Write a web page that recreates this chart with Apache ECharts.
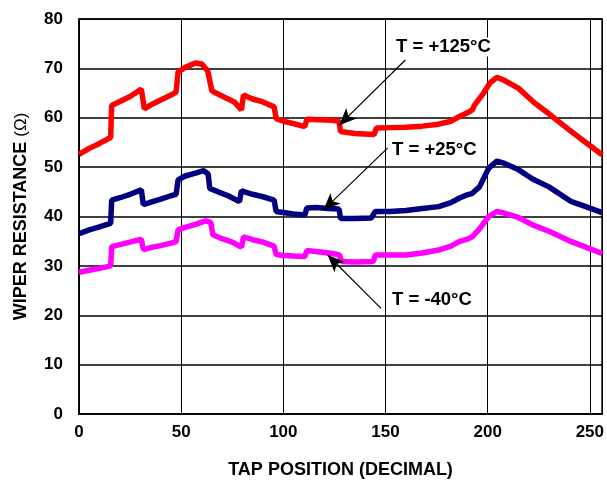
<!DOCTYPE html>
<html>
<head>
<meta charset="utf-8">
<script src="https://cdn.jsdelivr.net/npm/echarts@6/dist/echarts.min.js"></script>
<style>
html,body{margin:0;padding:0;background:#fff;}
#chart{width:607px;height:484px;}
</style>
</head>
<body>
<div id="chart"></div>
<script>
// Tap positions and wiper resistance values
var redX = [0, 5, 10, 15.5, 16, 20, 25, 30.5, 32, 36, 40, 45, 47.5, 48.5, 52, 57, 60, 63, 65, 67, 72, 76, 79.5, 80.5, 85, 90, 95.5, 96.5, 100, 105, 110.5, 111.5, 118, 124, 127.3, 128, 135, 144.5, 145.5, 152, 160, 168, 176, 182, 186, 190, 192.5, 193.5, 198, 201, 204.5, 208, 215, 223, 230, 241, 248, 256];
var redY = [52.6, 53.8, 54.8, 56.0, 62.5, 63.3, 64.3, 65.8, 61.8, 62.8, 63.6, 64.6, 65.2, 69.3, 70.2, 71.1, 70.9, 69.5, 65.5, 65.0, 64.0, 63.2, 61.6, 64.6, 63.8, 63.2, 62.2, 59.8, 59.3, 58.8, 58.2, 59.7, 59.6, 59.5, 59.3, 57.2, 56.8, 56.6, 57.9, 58.0, 58.1, 58.3, 58.7, 59.3, 60.2, 61.0, 61.6, 62.5, 65.0, 67.0, 68.2, 67.6, 66.0, 63.0, 60.8, 57.2, 55.0, 52.5];

var blueX = [0, 5, 10, 15.5, 16, 20, 25, 30.5, 31.5, 36, 40, 45, 47.5, 48.5, 52, 57, 61, 63.2, 64, 68, 73, 78.5, 79.5, 85, 90, 95.5, 96.5, 100, 105, 110.5, 111.5, 116, 122, 127.3, 128, 135, 143, 145, 152, 160, 168, 176, 182, 186, 190, 192.5, 196, 200.5, 204.5, 208, 215, 222, 230, 241, 248, 256];
var blueY = [36.5, 37.3, 37.9, 38.6, 43.3, 43.8, 44.5, 45.4, 42.4, 43.0, 43.5, 44.2, 44.5, 47.4, 48.2, 48.8, 49.3, 48.6, 45.7, 45.0, 44.2, 43.0, 45.2, 44.5, 44.0, 43.3, 41.0, 40.8, 40.5, 40.3, 41.7, 41.8, 41.6, 41.5, 39.6, 39.6, 39.7, 41.0, 41.0, 41.2, 41.6, 42.0, 42.8, 43.7, 44.4, 44.7, 46.0, 49.8, 51.2, 50.8, 49.5, 47.6, 46.0, 43.0, 42.0, 40.8];

var magX = [0, 5, 10, 15.5, 16, 20, 25, 30.5, 31.5, 36, 40, 45, 47.5, 48.5, 52, 57, 62, 64.5, 65.5, 70, 75, 79.5, 80.5, 85, 90, 95.5, 96.5, 100, 105, 110.5, 111.5, 118, 124, 127.5, 128.5, 135, 144, 145, 152, 160, 168, 176, 182, 186, 190, 192.5, 196, 200.5, 204.5, 208, 215, 222, 230, 241, 248, 256];
var magY = [28.7, 29.1, 29.5, 30.0, 33.9, 34.3, 34.8, 35.4, 33.3, 33.8, 34.1, 34.6, 34.9, 37.3, 37.8, 38.4, 39.1, 38.8, 36.3, 35.5, 34.8, 33.8, 35.9, 35.3, 34.8, 34.0, 32.3, 32.1, 32.0, 31.9, 33.1, 32.8, 32.5, 32.2, 30.9, 30.8, 30.9, 32.2, 32.2, 32.2, 32.6, 33.2, 34.0, 34.9, 35.4, 35.9, 37.5, 40.0, 41.0, 40.7, 39.8, 38.3, 37.0, 34.9, 33.8, 32.5];

var seriesNames = ['T = +125°C', 'T = +25°C', 'T = -40°C'];
// arrow [start, end] in data coordinates
var arrows = [
  [[159.7, 71.7], [127.4, 58.5]],
  [[151.1, 53.9], [119.6, 41.3]],
  [[147.8, 21.4], [121.7, 32.2]]
];

function pairs(xs, ys) { return xs.map(function (x, i) { return [x, ys[i]]; }); }

var chart = echarts.init(document.getElementById('chart'), null, {renderer: 'canvas'});
var FONT = '"Liberation Sans", Arial, sans-serif';

function arrowLine(a) {
  return {
    silent: true,
    symbol: ['none', 'arrow'],
    symbolSize: [11, 17],
    label: {show: false},
    lineStyle: {color: '#000', width: 1.2, type: 'solid'},
    emphasis: {disabled: true},
    data: [[{coord: a[0]}, {coord: a[1]}]]
  };
}

chart.setOption({
  animation: false,
  backgroundColor: '#fff',
  grid: {left: 79, right: 4, top: 19, bottom: 70, show: true, borderColor: '#000', borderWidth: 1.5},
  xAxis: {
    type: 'value', min: 0, max: 256, interval: 50,
    name: 'TAP POSITION (DECIMAL)', nameLocation: 'middle', nameGap: 47,
    nameTextStyle: {fontFamily: FONT, fontWeight: 'bold', fontSize: 18, color: '#000'},
    axisLine: {show: true, lineStyle: {color: '#000', width: 1.5}},
    axisTick: {show: false},
    axisLabel: {fontFamily: FONT, fontWeight: 'bold', fontSize: 17, color: '#000', margin: 10,
      formatter: function (v) { return v % 50 === 0 ? String(v) : ''; }},
    splitLine: {show: true, lineStyle: {color: '#000', width: 1}}
  },
  yAxis: {
    type: 'value', min: 0, max: 80, interval: 10,
    name: '{b|WIPER RESISTANCE }{n|(Ω)}', nameLocation: 'middle', nameGap: 49,
    nameTextStyle: {
      fontFamily: FONT, color: '#000',
      rich: {
        b: {fontFamily: FONT, fontWeight: 'bold', fontSize: 18, color: '#000'},
        n: {fontFamily: FONT, fontWeight: 'normal', fontSize: 17, color: '#000'}
      }
    },
    axisLine: {show: true, lineStyle: {color: '#000', width: 1.5}},
    axisTick: {show: false},
    axisLabel: {fontFamily: FONT, fontWeight: 'bold', fontSize: 17, color: '#000', margin: 16},
    splitLine: {show: true, lineStyle: {color: '#000', width: 1.5}}
  },
  series: [
    {name: seriesNames[0], type: 'line', data: pairs(redX, redY), symbol: 'none', z: 3,
     lineStyle: {color: '#FF0000', width: 5.5}, itemStyle: {color: '#FF0000'}, markLine: arrowLine(arrows[0])},
    {name: seriesNames[1], type: 'line', data: pairs(blueX, blueY), symbol: 'none', z: 3,
     lineStyle: {color: '#000080', width: 5.5}, itemStyle: {color: '#000080'}, markLine: arrowLine(arrows[1])},
    {name: seriesNames[2], type: 'line', data: pairs(magX, magY), symbol: 'none', z: 3,
     lineStyle: {color: '#FF00FF', width: 5.5}, itemStyle: {color: '#FF00FF'}, markLine: arrowLine(arrows[2])}
  ],
  graphic: [
    {type: 'text', x: 396, y: 47, z: 10, style: {text: seriesNames[0], font: 'bold 18.5px ' + FONT, fill: '#000', verticalAlign: 'middle', backgroundColor: '#fff'}},
    {type: 'text', x: 392, y: 150, z: 10, style: {text: seriesNames[1], font: 'bold 18.5px ' + FONT, fill: '#000', verticalAlign: 'middle', backgroundColor: '#fff'}},
    {type: 'text', x: 392, y: 300, z: 10, style: {text: seriesNames[2], font: 'bold 18.5px ' + FONT, fill: '#000', verticalAlign: 'middle', backgroundColor: '#fff'}}
  ]
});
</script>
</body>
</html>
